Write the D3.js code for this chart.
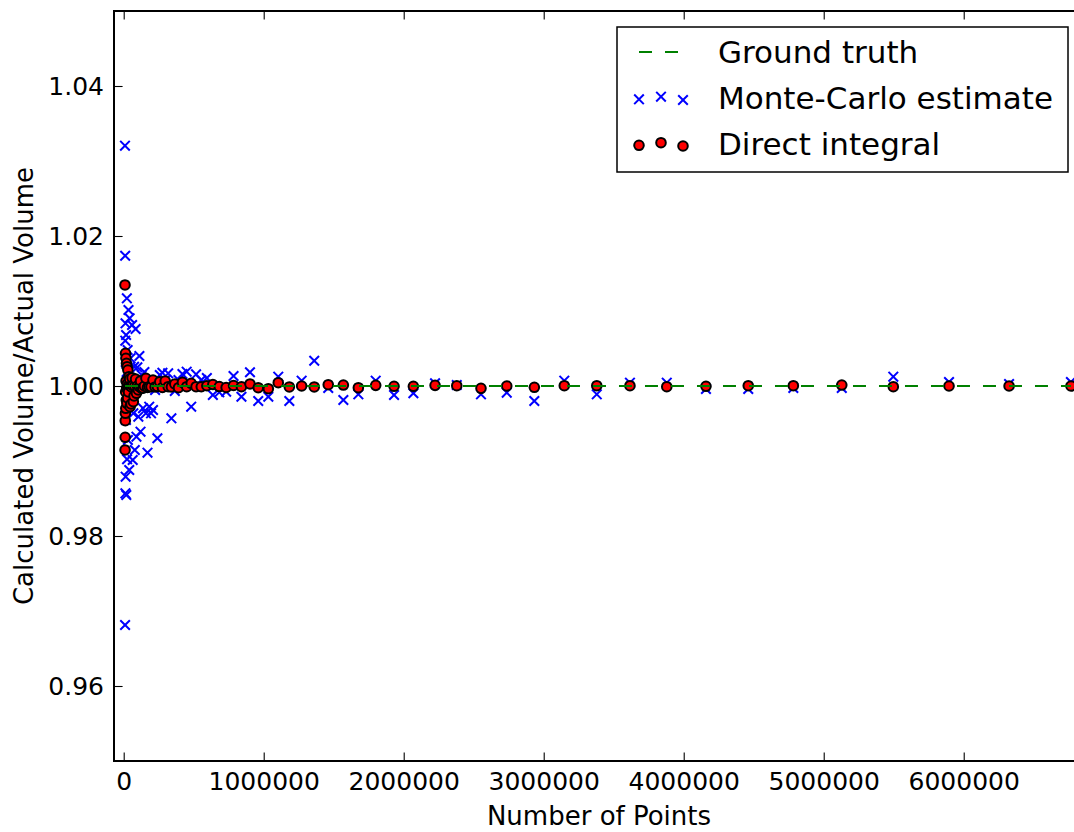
<!DOCTYPE html>
<html>
<head>
<meta charset="utf-8">
<script src="https://cdn.jsdelivr.net/npm/d3@7"></script>
<style>
  body { margin: 0; background: #fff; }
  svg { display: block; font-family: "DejaVu Sans", sans-serif; }
</style>
</head>
<body>
<div id="chart"></div>
<script>
// Number of points per run (largest first)
const numPoints = [
    6766000, 6324000, 5895000, 5497000, 5129000, 4783000, 4461000, 4159000, 3879000, 3616000,
    3379000, 3147000, 2933000, 2736000, 2552000, 2379000, 2224000, 2069000, 1931000, 1800000,
    1676000, 1569000, 1461000, 1361000, 1271000, 1183000, 1104000, 1033000, 961000, 902000,
    841000, 784500, 731800, 682700, 636800, 594000, 554100, 516900, 482200, 449800,
    419600, 391400, 365100, 340600, 317700, 296400, 276500, 257900, 240600, 224400,
    209300, 195300, 182200, 170000, 158600, 147900, 138000, 128700, 120100, 112000,
    104500, 97500, 90900, 84800, 79100, 73800, 68800, 64200, 59900, 55900,
    52100, 48600, 45400, 42300, 39500, 36800, 34300, 32000, 29900, 27900,
    26000, 24300, 22600, 21100, 19700, 18400, 17100, 16000, 14900, 13900,
    13000, 12100, 11300, 10500, 9800, 9150
];

// Monte-Carlo estimate, same order
const monteCarlo = [
    1.00053, 1.00027, 1.00053, 1.00124, 0.99973, 0.99973, 0.99960, 0.99960, 1.00044, 1.00044,
    0.99889, 1.00071, 0.99800, 0.99911, 0.99889, 1.00013, 1.00036, 0.99903, 0.99880, 1.00071,
    0.99889, 0.99813, 0.99973, 1.00337, 1.00071, 0.99800, 1.00124, 0.99857, 0.99800, 1.00183,
    0.99857, 1.00133, 0.99924, 0.99916, 0.99880, 1.00107, 1.00080, 1.00156, 0.99724, 1.00191,
    1.00160, 1.00080, 0.99933, 0.99569, 1.00169, 1.00080, 1.00177, 1.00147, 0.99303, 0.99947,
    0.99680, 0.99636, 0.99724, 0.99111, 0.99636, 1.00187, 0.99703, 1.00147, 0.99391, 1.00400,
    0.99591, 1.00249, 0.99324, 1.00760, 0.99147, 1.00257, 0.99636, 0.99013, 1.00813, 1.00040,
    0.99880, 1.00369, 0.99813, 1.00903, 0.98880, 1.00080, 1.01013, 0.99920, 0.99280, 1.00480,
    0.99973, 0.99023, 1.01169, 1.00187, 0.99747, 0.98547, 1.00680, 0.99547, 1.00320, 0.98791,
    1.00836, 0.98569, 1.00604, 1.01737, 0.96813, 1.03204
];

// Direct integral, same order
const directIntegral = [
    1.00000, 1.00000, 1.00000, 0.99991, 1.00013, 1.00004, 1.00004, 0.99996, 0.99991, 1.00004,
    1.00004, 1.00004, 0.99983, 1.00000, 0.99969, 1.00004, 1.00009, 0.99996, 0.99996, 1.00009,
    0.99977, 1.00013, 1.00017, 0.99987, 1.00000, 0.99987, 1.00044, 0.99964, 0.99977, 1.00027,
    0.99991, 1.00007, 0.99980, 0.99993, 1.00020, 1.00004, 0.99991, 0.99991, 1.00036, 0.99991,
    1.00049, 0.99977, 1.00027, 0.99987, 0.99991, 1.00067, 0.99980, 1.00057, 0.99993, 0.99987,
    1.00080, 0.99991, 0.99991, 0.99980, 1.00103, 1.00000, 0.99973, 0.99969, 1.00067, 0.99993,
    0.99947, 1.00000, 0.99903, 1.00093, 1.00000, 0.99867, 0.99791, 1.00007, 1.00111, 0.99987,
    0.99760, 1.00000, 0.99724, 1.00093, 1.00013, 1.00124, 0.99920, 0.99987, 1.00213, 0.99840,
    1.00027, 1.00257, 0.99769, 0.99973, 1.00303, 0.99813, 1.00067, 1.00369, 0.99703, 0.99920,
    1.00436, 0.99636, 0.99537, 0.99316, 0.99147, 1.01347
];

const groundTruth = 1.0;

const xTicks = [0, 1000000, 2000000, 3000000, 4000000, 5000000, 6000000];
const yTicks = [0.96, 0.98, 1.00, 1.02, 1.04];
const legendLabels = ["Ground truth", "Monte-Carlo estimate", "Direct integral"];

var width = 1074, height = 832;
var margin = {top: 11, left: 114, bottom: 71};
var plotRight = 1090; // right spine sits past the edge of the picture
var plotBottom = height - margin.bottom;

var svg = d3.select("#chart").append("svg")
    .attr("width", width)
    .attr("height", height);

svg.append("rect")
    .attr("width", width)
    .attr("height", height)
    .attr("fill", "#fff");

var x = d3.scaleLinear()
    .domain([-69300, 6902000])
    .range([margin.left, plotRight]);

var y = d3.scaleLinear()
    .domain([0.95, 1.05])
    .range([plotBottom, margin.top]);

svg.append("clipPath")
    .attr("id", "plotclip")
    .append("rect")
    .attr("x", margin.left)
    .attr("y", margin.top)
    .attr("width", plotRight - margin.left)
    .attr("height", plotBottom - margin.top);

// points, smallest N first (drawing order)
var points = numPoints.map((n, i) => ({n: n, mc: monteCarlo[i], direct: directIntegral[i]})).reverse();

var plot = svg.append("g").attr("clip-path", "url(#plotclip)");

var xMark = "M-4.8,-4.8L4.8,4.8M-4.8,4.8L4.8,-4.8";

// Monte-Carlo crosses
plot.append("g").selectAll("path")
    .data(points)
    .join("path")
    .attr("d", xMark)
    .attr("transform", d => `translate(${x(d.n)},${y(d.mc)})`)
    .attr("fill", "none")
    .attr("stroke", "#0000ff")
    .attr("stroke-width", 2);

// Direct integral circles
plot.append("g").selectAll("circle")
    .data(points)
    .join("circle")
    .attr("cx", d => x(d.n))
    .attr("cy", d => y(d.direct))
    .attr("r", 4.8)
    .attr("fill", "#ff0000")
    .attr("stroke", "#000")
    .attr("stroke-width", 2);

// Ground truth line
var truthLine = d3.line()
    .x(d => x(d.n))
    .y(() => y(groundTruth));

plot.append("path")
    .datum(points)
    .attr("d", truthLine)
    .attr("fill", "none")
    .attr("stroke", "#008000")
    .attr("stroke-width", 2)
    .attr("stroke-dasharray", "13,13");

// Axes (classic style: ticks pointing inward on all sides)
function styleAxis(g) {
    g.select(".domain").remove();
    g.selectAll(".tick line").attr("stroke", "#000").attr("stroke-width", 1.1);
    g.selectAll(".tick text")
        .attr("fill", "#000")
        .attr("font-size", "25px")
        .attr("font-family", "DejaVu Sans, sans-serif");
}

svg.append("g")
    .attr("transform", `translate(0,${plotBottom})`)
    .call(d3.axisBottom(x).tickValues(xTicks).tickFormat(d3.format("d"))
        .tickSizeInner(-8.6).tickSizeOuter(0).tickPadding(11))
    .call(styleAxis);

svg.append("g")
    .attr("transform", `translate(0,${margin.top})`)
    .call(d3.axisTop(x).tickValues(xTicks).tickFormat("")
        .tickSizeInner(-8.6).tickSizeOuter(0))
    .call(styleAxis);

svg.append("g")
    .attr("transform", `translate(${margin.left},0)`)
    .call(d3.axisLeft(y).tickValues(yTicks).tickFormat(d3.format(".2f"))
        .tickSizeInner(-8.6).tickSizeOuter(0).tickPadding(10))
    .call(styleAxis);

svg.append("g")
    .attr("transform", `translate(${plotRight},0)`)
    .call(d3.axisRight(y).tickValues(yTicks).tickFormat("")
        .tickSizeInner(-8.6).tickSizeOuter(0))
    .call(styleAxis);

// Frame
svg.append("rect")
    .attr("x", margin.left)
    .attr("y", margin.top)
    .attr("width", plotRight - margin.left)
    .attr("height", plotBottom - margin.top)
    .attr("fill", "none")
    .attr("stroke", "#000")
    .attr("stroke-width", 2);

// Axis titles
svg.append("text")
    .attr("x", 599)
    .attr("y", 825)
    .attr("text-anchor", "middle")
    .attr("font-size", "26px")
    .text("Number of Points");

svg.append("text")
    .attr("transform", `translate(33,${(margin.top + plotBottom) / 2}) rotate(-90)`)
    .attr("text-anchor", "middle")
    .attr("font-size", "26px")
    .text("Calculated Volume/Actual Volume");

// Legend
var legend = svg.append("g").attr("transform", "translate(617,27)");

legend.append("rect")
    .attr("width", 451)
    .attr("height", 145)
    .attr("fill", "#fff")
    .attr("stroke", "#000")
    .attr("stroke-width", 1.5);

var rowY = [25, 71, 117];
var markX = [22, 44, 66];
var markDy = [1.3, -1.3, 2];

legend.append("line")
    .attr("x1", 22).attr("x2", 62)
    .attr("y1", rowY[0]).attr("y2", rowY[0])
    .attr("stroke", "#008000")
    .attr("stroke-width", 2)
    .attr("stroke-dasharray", "13,13");

legend.append("g").selectAll("path")
    .data(markX)
    .join("path")
    .attr("d", xMark)
    .attr("transform", (d, i) => `translate(${d},${rowY[1] + markDy[i]})`)
    .attr("fill", "none")
    .attr("stroke", "#0000ff")
    .attr("stroke-width", 2);

legend.append("g").selectAll("circle")
    .data(markX)
    .join("circle")
    .attr("cx", d => d)
    .attr("cy", (d, i) => rowY[2] + markDy[i])
    .attr("r", 4.8)
    .attr("fill", "#ff0000")
    .attr("stroke", "#000")
    .attr("stroke-width", 2);

legend.append("g").selectAll("text")
    .data(legendLabels)
    .join("text")
    .attr("x", 101)
    .attr("y", (d, i) => rowY[i] + 11)
    .attr("font-size", "31px")
    .attr("fill", "#000")
    .text(d => d);
</script>
</body>
</html>
